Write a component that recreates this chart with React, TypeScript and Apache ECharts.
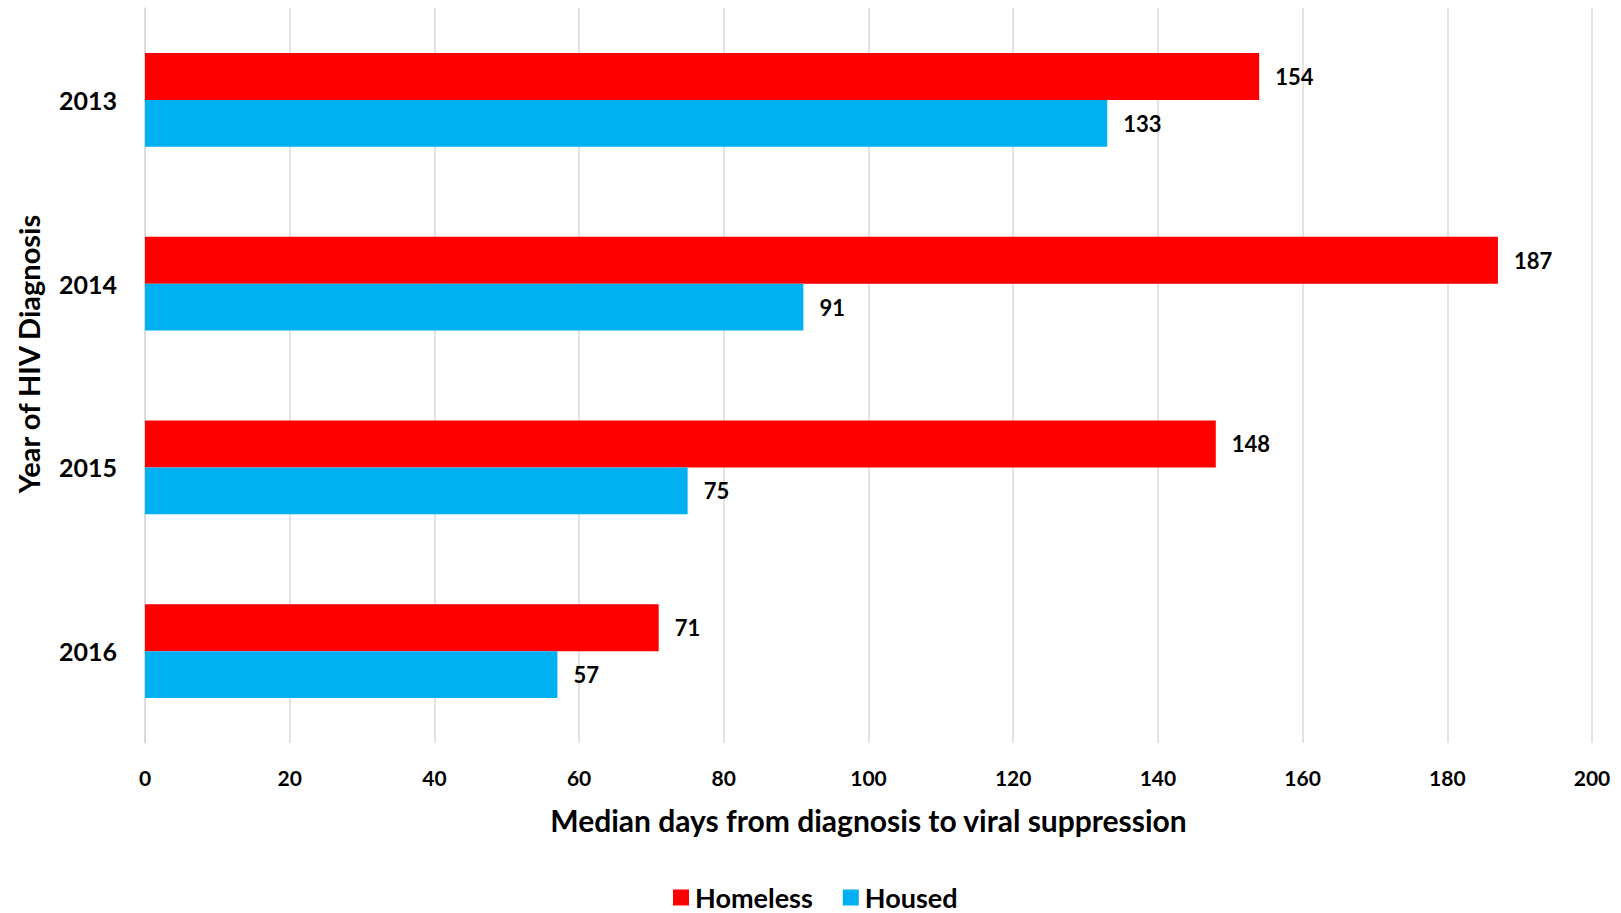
import React, { useEffect, useRef } from "react";
import * as echarts from "echarts";

const categories = ["2013", "2014", "2015", "2016"];
const homeless = [154, 187, 148, 71];
const housed = [133, 91, 75, 57];
const xTicks = [0, 20, 40, 60, 80, 100, 120, 140, 160, 180, 200];
const xTitle = "Median days from diagnosis to viral suppression";
const yTitle = "Year of HIV Diagnosis";

const FONT = "Lato, 'Open Sans', sans-serif";

export default function App() {
  const ref = useRef<HTMLDivElement>(null);
  useEffect(() => {
    if (!ref.current) return;
    const chart = echarts.init(ref.current, undefined, { renderer: "svg" });
    const labelStyle = {
      show: true,
      position: "right",
      distance: 16,
      color: "#000",
      fontWeight: "bold",
      fontSize: 22,
      fontFamily: FONT,
    };
    chart.setOption({
      animation: false,
      backgroundColor: "#fff",
      textStyle: { fontFamily: FONT },
      grid: { left: 145, right: 29, top: 8, bottom: 170, containLabel: false },
      legend: {
        left: 673,
        top: 884,
        padding: 0,
        itemWidth: 16,
        itemHeight: 16,
        itemGap: 30,
        icon: "rect",
        textStyle: {
          fontSize: 27,
          lineHeight: 26,
          fontWeight: "bold",
          color: "#000",
          fontFamily: FONT,
          padding: [0, 0, 0, 1],
        },
        data: ["Homeless", "Housed"],
      },
      graphic: [
        {
          type: "text",
          x: 28,
          y: 354,
          rotation: Math.PI / 2,
          style: {
            text: yTitle,
            fontSize: 29,
            fontWeight: "bold",
            fontFamily: FONT,
            fill: "#000",
            align: "center",
            verticalAlign: "middle",
          },
        },
      ],
      xAxis: {
        type: "value",
        min: xTicks[0],
        max: xTicks[xTicks.length - 1],
        interval: xTicks[1] - xTicks[0],
        name: xTitle,
        nameLocation: "middle",
        nameGap: 62,
        nameTextStyle: { fontSize: 30, fontWeight: "bold", color: "#000", fontFamily: FONT },
        axisLine: { show: false },
        axisTick: { show: false },
        axisLabel: { fontSize: 21, fontWeight: "bold", color: "#000", margin: 24, fontFamily: FONT },
        splitLine: { show: true, lineStyle: { color: "#d9d9d9", width: 1.5 } },
      },
      yAxis: {
        type: "category",
        data: categories,
        inverse: true,
        axisLine: { show: true, lineStyle: { color: "#d9d9d9", width: 1.5 } },
        axisTick: { show: false },
        axisLabel: { fontSize: 25, fontWeight: "bold", color: "#000", margin: 28, fontFamily: FONT },
        splitLine: { show: false },
      },
      series: [
        {
          name: "Homeless",
          type: "bar",
          data: homeless,
          itemStyle: { color: "#FF0000" },
          barGap: "0%",
          barCategoryGap: "49%",
          label: labelStyle,
        },
        {
          name: "Housed",
          type: "bar",
          data: housed,
          itemStyle: { color: "#00B0F0" },
          barGap: "0%",
          barCategoryGap: "49%",
          label: labelStyle,
        },
      ],
    });
    return () => chart.dispose();
  }, []);
  return (
    <div
      ref={ref}
      style={{ position: "fixed", left: 0, top: 0, width: 1621, height: 913 }}
    />
  );
}
